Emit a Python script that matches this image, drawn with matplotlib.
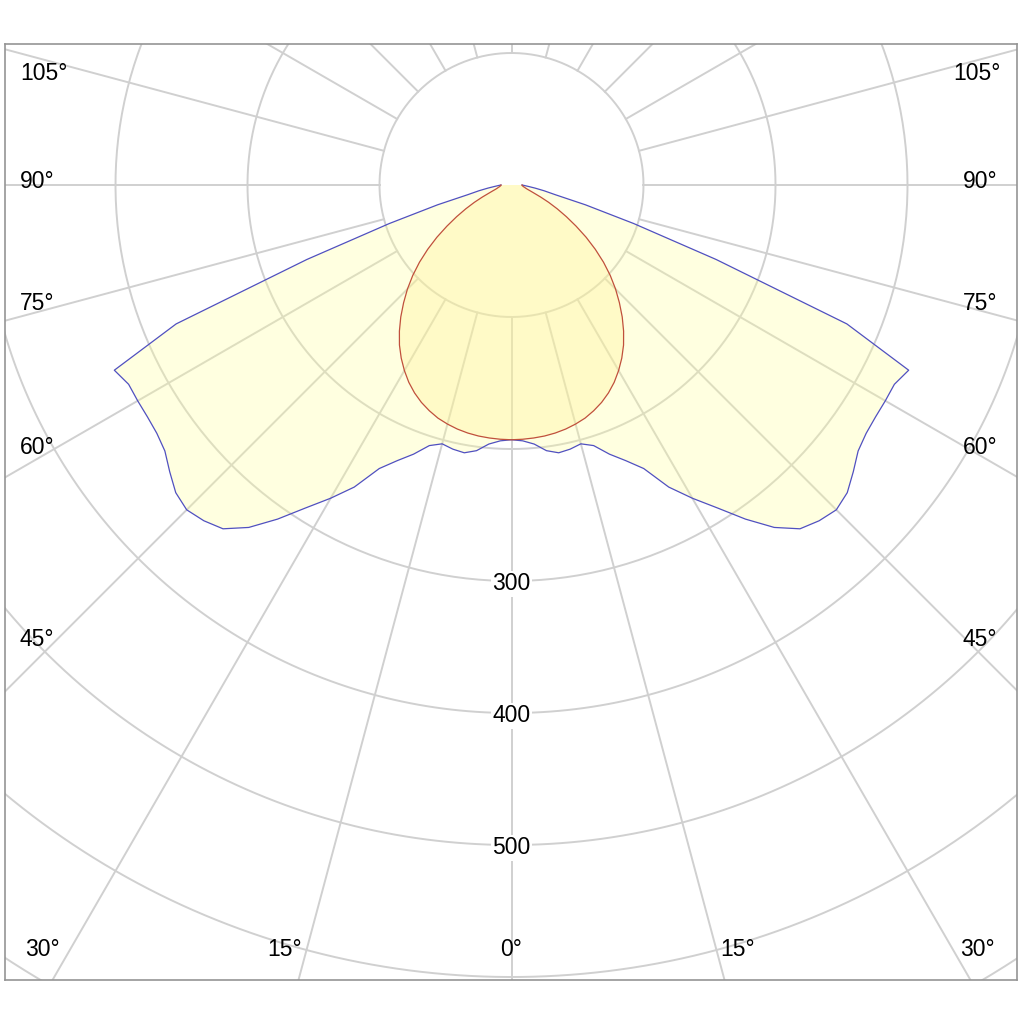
import numpy as np
import matplotlib
matplotlib.use("Agg")
import matplotlib.pyplot as plt

plt.rcParams['font.family'] = ['Liberation Sans', 'DejaVu Sans']

# angles from nadir (deg), values in cd/klm, curve is symmetric
angles = np.arange(0, 90.1, 2.5)
c90_270 = [193, 194, 197, 203, 206, 205, 203, 207, 217, 226, 237, 258, 274,
           290, 309, 327, 340, 345, 348, 345, 338, 331, 328, 327, 327, 327,
           332, 275, 165, 97, 58, 34, 25, 18, 13, 10, 8]
c0_180 = [193, 192.8, 192.4, 191.8, 190.8, 189.4, 187.5, 185.2, 182, 178.3,
          173.8, 168.5, 162.3, 155.5, 148, 139.5, 130.5, 121, 111.5, 101.5,
          91, 80, 69, 58, 48, 39, 31, 24, 18.5, 15, 12.5, 11, 10, 9, 8.5, 8, 8]

rings = [100, 200, 300, 400, 500, 600, 700]
ring_labels = ['300', '400', '500']
spoke_step = 15

# label text and pixel position in the reference layout
angle_labels = [('105°', 44, 73), ('90°', 37, 182), ('75°', 37, 303),
                ('60°', 37, 447), ('45°', 37, 640), ('30°', 42, 950),
                ('15°', 285, 950), ('0°', 511, 950), ('15°', 738, 950),
                ('30°', 977, 950), ('45°', 980, 640), ('60°', 980, 447),
                ('75°', 980, 303), ('90°', 980, 182), ('105°', 977, 73)]

CX, CY, SCALE = 511.5, 185.0, 1.32


def px2data(px, py):
    return (px - CX) / SCALE, -(py - CY) / SCALE


def to_xy(theta_deg, r):
    t = np.radians(theta_deg)
    return np.asarray(r) * np.sin(t), -np.asarray(r) * np.cos(t)


def full_curve(vals):
    a = np.concatenate([-angles[::-1], angles[1:]])
    v = np.concatenate([np.asarray(vals)[::-1], np.asarray(vals)[1:]])
    return to_xy(a, v)


fig = plt.figure(figsize=(10.24, 10.24), dpi=100)
ax = fig.add_axes([5 / 1024, 44 / 1024, 1012 / 1024, 936 / 1024])
x0, y0 = px2data(5, 980)
x1, y1 = px2data(1017, 44)
ax.set_xlim(x0, x1)
ax.set_ylim(y0, y1)
ax.set_aspect('equal')
ax.set_xticks([])
ax.set_yticks([])
for s in ax.spines.values():
    s.set_color('#959595')
    s.set_linewidth(1.2)

grid_c = '#d0d0d0'
t = np.linspace(0, 2 * np.pi, 400)
for r in rings:
    ax.plot(r * np.cos(t), r * np.sin(t), color=grid_c, lw=1.4, zorder=1)
for a in range(0, 360, spoke_step):
    xs, ys = to_xy(a, [100, 900])
    ax.plot(xs, ys, color=grid_c, lw=1.4, zorder=1)

bx, by = full_curve(c90_270)
ax.fill(bx, by, color='#ffff99', alpha=0.3, lw=0, zorder=2)
ax.plot(bx, by, color='#5050c0', lw=0.9, zorder=4)

rx, ry = full_curve(c0_180)
ax.fill(rx, ry, color='#fff094', alpha=0.32, lw=0, zorder=3)
ax.plot(rx, ry, color='#c0503c', lw=0.9, zorder=4)

for lab in ring_labels:
    ax.text(0, -float(lab) - 2, lab, ha='center', va='center', fontsize=16.5,
            zorder=5, bbox=dict(facecolor='white', edgecolor='none', pad=1.0))

for txt, px, py in angle_labels:
    x, y = px2data(px, py)
    ax.text(x, y, txt, ha='center', va='center', fontsize=16.5, zorder=5)

fig.savefig('out.png', dpi=100, facecolor='white')
